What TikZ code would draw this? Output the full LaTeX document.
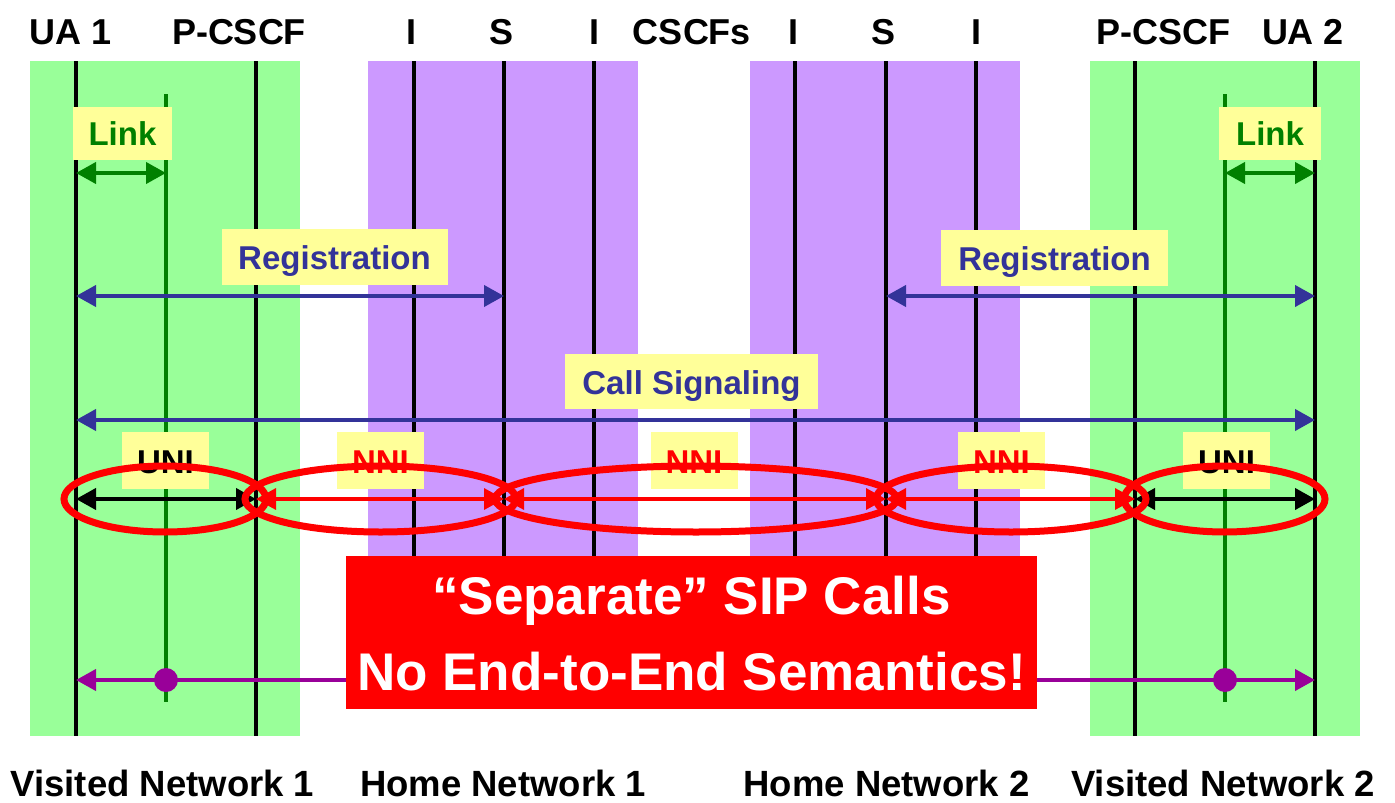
\documentclass[tikz,border=0pt]{standalone}
\usepackage{fontspec}
\setmainfont{Liberation Sans}
\usetikzlibrary{arrows.meta}
\definecolor{visitbg}{HTML}{99FF99}
\definecolor{homebg}{HTML}{CC99FF}
\definecolor{tagbg}{HTML}{FFFF99}
\definecolor{sigblue}{HTML}{333399}
\definecolor{linkgreen}{HTML}{008000}
\definecolor{alertred}{HTML}{FF0000}
\definecolor{mediapurple}{HTML}{990099}
\tikzset{bigtri/.tip={Triangle[length=20pt,width=21pt]}}
\begin{document}
\begin{tikzpicture}[x=1pt,y=-1pt,
  hdr/.style={font=\fontsize{36}{40}\selectfont\bfseries, anchor=base, inner sep=0pt},
  netname/.style={font=\fontsize{36.5}{40}\selectfont\bfseries, anchor=base, inner sep=0pt},
  tag/.style={fill=tagbg, inner sep=0pt, font=\fontsize{33}{36}\selectfont\bfseries,
    text height=25pt, text depth=0pt},
  lifeline/.style={line width=4.5pt, black},
  linkline/.style={line width=4.5pt, linkgreen},
  msg/.style={line width=4pt, {bigtri}-{bigtri}},
  hop/.style={line width=3.5pt, alertred, {bigtri}-{bigtri}},
  ring/.style={line width=7pt, alertred},
  media/.style={line width=4pt, mediapurple, -{bigtri}},
  verdicttext/.style={font=\fontsize{53}{60}\selectfont\bfseries, text=white, anchor=base, inner sep=0pt}
]
\useasboundingbox (0,0) rectangle (1395,803);

% lifeline columns
\coordinate (ua1) at (76,0);
\coordinate (ue1) at (166,0);
\coordinate (pc1) at (256,0);
\coordinate (ia1) at (414,0);
\coordinate (sa1) at (504,0);
\coordinate (ib1) at (594,0);
\coordinate (ia2) at (795,0);
\coordinate (sa2) at (886,0);
\coordinate (ib2) at (976,0);
\coordinate (pc2) at (1135,0);
\coordinate (ue2) at (1225,0);
\coordinate (ua2) at (1315,0);

% rows
\coordinate (rowtop) at (0,61);
\coordinate (rowend) at (0,736);
\coordinate (rowhome) at (0,640);
\coordinate (rowlinktop) at (0,94);
\coordinate (rowlinkend) at (0,702);
\coordinate (rowlink) at (0,173);
\coordinate (rowreg) at (0,296);
\coordinate (rowcall) at (0,420);
\coordinate (rowhop) at (0,499);
\coordinate (rowmedia) at (0,680);

% network areas
\fill[visitbg] (30,61) rectangle (300,736);
\fill[homebg] (368,61) rectangle (638,640);
\fill[homebg] (750,61) rectangle (1020,640);
\fill[visitbg] (1090,61) rectangle (1360,736);

% column headings
\node[hdr] (h-ua1) at (71,44) {UA 1};
\node[hdr] (h-pc1) at (239,44) {P-CSCF};
\node[hdr] (h-ia1) at (411,44) {I};
\node[hdr] (h-sa1) at (501,44) {S};
\node[hdr] (h-ib1) at (594,44) {I};
\node[hdr] (h-cscf) at (692,44) {CSCFs};
\node[hdr] (h-ia2) at (793,44) {I};
\node[hdr] (h-sa2) at (883,44) {S};
\node[hdr] (h-ib2) at (976,44) {I};
\node[hdr] (h-pc2) at (1163,44) {P-CSCF};
\node[hdr] (h-ua2) at (1303,44) {UA 2};

% network names
\node[netname] (n-v1) at (162.5,796) {Visited Network 1};
\node[netname] (n-h1) at (503,796) {Home Network 1};
\node[netname] (n-h2) at (886.5,796) {Home Network 2};
\node[netname] (n-v2) at (1223,796) {Visited Network 2};

% lifelines
\foreach \c in {ua1,pc1,pc2,ua2}
  \draw[lifeline] (\c |- rowtop) -- (\c |- rowend);
\foreach \c in {ia1,sa1,ib1,ia2,sa2,ib2}
  \draw[lifeline] (\c |- rowtop) -- (\c |- rowhome);
\foreach \c in {ue1,ue2}
  \draw[linkline] (\c |- rowlinktop) -- (\c |- rowlinkend);

% labels
\node[tag, text=linkgreen, minimum width=99pt, minimum height=53pt] (linkL) at (122.5,133) {Link};
\node[tag, text=linkgreen, minimum width=102pt, minimum height=53pt] (linkR) at (1270,133) {Link};
\node[tag, text=sigblue, minimum width=226pt, minimum height=56pt] (regL) at (334.5,257) {Registration};
\node[tag, text=sigblue, minimum width=227pt, minimum height=56pt] (regR) at (1054.5,258) {Registration};
\node[tag, text=sigblue, minimum width=253pt, minimum height=55pt] (call) at (691.5,381.5) {Call Signaling};
\node[tag, text=black, minimum width=87pt, minimum height=57pt] (uniL) at (165.5,460.5) {UNI};
\node[tag, text=alertred, minimum width=87pt, minimum height=57pt] (nni1) at (380.5,460.5) {NNI};
\node[tag, text=alertred, minimum width=87pt, minimum height=57pt] (nni2) at (694,460.5) {NNI};
\node[tag, text=alertred, minimum width=87pt, minimum height=57pt] (nni3) at (1001.5,460.5) {NNI};
\node[tag, text=black, minimum width=87pt, minimum height=57pt] (uniR) at (1226.5,460.5) {UNI};

% link, registration and call signalling
\draw[msg, linkgreen] (ua1 |- rowlink) -- (ue1 |- rowlink);
\draw[msg, linkgreen] (ue2 |- rowlink) -- (ua2 |- rowlink);
\draw[msg, sigblue] (ua1 |- rowreg) -- (sa1 |- rowreg);
\draw[msg, sigblue] (sa2 |- rowreg) -- (ua2 |- rowreg);
\draw[msg, sigblue] (ua1 |- rowcall) -- (ua2 |- rowcall);

% hop-by-hop SIP legs
\draw[msg, black] (ua1 |- rowhop) -- (pc1 |- rowhop);
\draw[hop] (pc1 |- rowhop) -- (sa1 |- rowhop);
\draw[hop] (sa1 |- rowhop) -- (sa2 |- rowhop);
\draw[hop] (sa2 |- rowhop) -- (pc2 |- rowhop);
\draw[msg, black] (pc2 |- rowhop) -- (ua2 |- rowhop);

% rings round each leg
\draw[ring] (165,499) ellipse [x radius=101pt, y radius=33pt];
\draw[ring] (380.5,499) ellipse [x radius=135.5pt, y radius=33pt];
\draw[ring] (696,499) ellipse [x radius=201pt, y radius=33pt];
\draw[ring] (1011,499) ellipse [x radius=135pt, y radius=33pt];
\draw[ring] (1224.5,499) ellipse [x radius=100.5pt, y radius=33pt];

% verdict box
\node[fill=alertred, minimum width=691pt, minimum height=153pt, inner sep=0pt] (verdict) at (691.5,632.5) {};
\node[verdicttext] (verdict1) at (691.5,614) {“Separate” SIP Calls};
\node[verdicttext] (verdict2) at (691.5,690) {No End-to-End Semantics!};

% media path
\draw[media] (verdict.west |- rowmedia) -- (ua1 |- rowmedia);
\draw[media] (verdict.east |- rowmedia) -- (ua2 |- rowmedia);
\fill[mediapurple] (ue1 |- rowmedia) circle[radius=12pt];
\fill[mediapurple] (ue2 |- rowmedia) circle[radius=12pt];
\end{tikzpicture}
\end{document}
